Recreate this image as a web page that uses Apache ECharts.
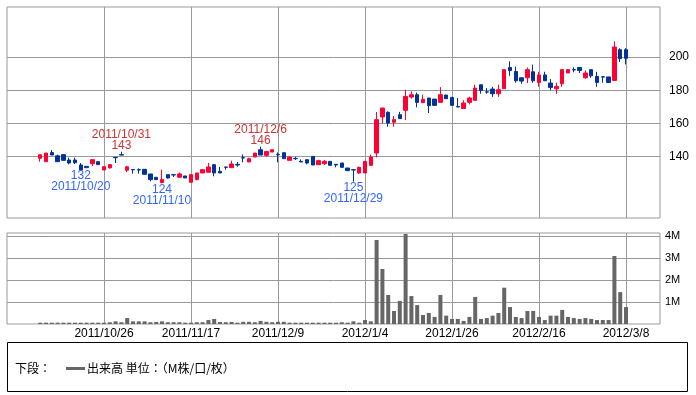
<!DOCTYPE html>
<html><head><meta charset="utf-8">
<script src="https://cdn.jsdelivr.net/npm/echarts@6/dist/echarts.min.js"></script>
<style>html,body{margin:0;padding:0;background:#fff}#c{width:696px;height:395px}</style>
</head><body><div id="c"></div>
<script>
const dates = [
 "2011/10/11","2011/10/12","2011/10/13","2011/10/14","2011/10/17","2011/10/18","2011/10/19","2011/10/20","2011/10/21","2011/10/24",
 "2011/10/25","2011/10/26","2011/10/27","2011/10/28","2011/10/31","2011/11/1","2011/11/2","2011/11/4","2011/11/7","2011/11/8",
 "2011/11/9","2011/11/10","2011/11/11","2011/11/14","2011/11/15","2011/11/16","2011/11/17","2011/11/18","2011/11/21","2011/11/22",
 "2011/11/24","2011/11/25","2011/11/28","2011/11/29","2011/11/30","2011/12/1","2011/12/2","2011/12/5","2011/12/6","2011/12/7",
 "2011/12/8","2011/12/9","2011/12/12","2011/12/13","2011/12/14","2011/12/15","2011/12/16","2011/12/19","2011/12/20","2011/12/21",
 "2011/12/22","2011/12/26","2011/12/27","2011/12/28","2011/12/29","2011/12/30","2012/1/4","2012/1/5","2012/1/6","2012/1/10",
 "2012/1/11","2012/1/12","2012/1/13","2012/1/16","2012/1/17","2012/1/18","2012/1/19","2012/1/20","2012/1/23","2012/1/24",
 "2012/1/25","2012/1/26","2012/1/27","2012/1/30","2012/1/31","2012/2/1","2012/2/2","2012/2/3","2012/2/6","2012/2/7",
 "2012/2/8","2012/2/9","2012/2/10","2012/2/13","2012/2/14","2012/2/15","2012/2/16","2012/2/17","2012/2/20","2012/2/21",
 "2012/2/22","2012/2/23","2012/2/24","2012/2/27","2012/2/28","2012/2/29","2012/3/1","2012/3/2","2012/3/5","2012/3/6",
 "2012/3/7","2012/3/8"
];
const openP = [
 139,137,142.5,140.5,141.2,138,138,135,134.2,135.8,
 137,132,133.3,139.6,141.2,131.9,132.3,132.2,132.4,129.6,
 127.6,124.4,129.2,129.2,127.6,128.4,124.6,126.2,130.2,130.6,
 135.2,131.2,133.8,133.4,135.4,139.4,136.8,139.8,144.2,140.8,
 142.8,141.4,142.4,137.8,139,137.2,138.2,140.2,135.2,135.8,
 137.2,135.4,136.2,133.2,132.2,130.2,130.2,134.8,142.2,163.9,
 166.7,160.7,165.3,167.9,175.9,177.3,172.5,175.3,174.7,172.7,
 177.1,175.7,170.2,169,172.7,173.9,183.3,179,180.7,177.9,
 180.9,193.7,191.3,187.5,187.5,191.1,184.7,189.2,184.3,180.9,
 183.9,190.4,192.4,193.7,187.5,192.4,188.3,188.1,188,185.9,
 204.4,204.4
];
const closeP = [
 141.2,142.2,141,137,137.8,136.2,136.4,132,133.4,138.2,
 135.2,134,135.2,139.4,141,133.9,132.1,132,129.4,126.2,
 126.2,126.2,127.2,129,129.6,127.2,129.2,130.2,132.2,133.8,
 130.2,130.2,133.6,135.6,135,139.2,138.8,142.2,141,143.2,
 144.2,141.2,138.8,139.8,138.8,136.8,136.2,135,137.6,137.2,
 134.8,135,133.6,131.6,132,133.6,137.2,139.8,162.3,169.3,
 160.3,162.3,162.9,176.3,177.3,172.7,174.5,170.7,170.9,177.3,
 174.9,170.9,169.9,172.3,175.3,181.3,179.9,178.9,177.9,180.3,
 192.4,191.9,185.7,185.5,192.4,185.7,189.2,185.7,181.7,182.3,
 192.4,192.4,192.2,191.9,190.4,188.7,184.7,187.9,184.7,206,
 199,199.2
];
const lowP = [
 137,137,141,137,137.8,135.4,135.6,132,133.4,134.4,
 135.2,132,132.8,136.2,141,130.7,129.8,129.8,129.4,125.2,
 126.2,124,126.8,127.8,127.6,127.2,124.6,125.8,130.2,130.6,
 128.2,130.2,132.2,133.2,134,136.6,136.8,139.8,141,140,
 142.8,136.6,138.8,137.8,138,136.8,135.4,135,135.2,135,
 134.8,133.6,133.6,131.6,125,129.6,130.2,134.8,139.6,160,
 158,158,162.9,162,175,169.7,172.5,166.3,170.9,172.7,
 174.9,170.9,169.9,169,171.5,173.9,177.9,177.9,176,176,
 180.9,188.7,184.5,183.9,184.3,184.5,182.1,185.7,180,177.9,
 182.1,190.4,190.8,190.4,187,187.5,182.1,184.5,184.5,185.9,
 197,195.5
];
const highP = [
 141.2,142.2,144,141.2,141.5,139.4,139.4,136.2,134.2,138.2,
 137,134,135.5,140,143,134.5,132.3,133,132.6,129.6,
 127.6,132.2,129.2,129.2,130.5,128.4,129.2,130.2,132.6,136.2,
 135.2,133.8,133.8,137.6,136.8,141.4,139.4,142.2,146,143.2,
 144.2,142.6,142.4,139.8,139.8,138.4,138.2,140.2,138.2,138,
 137.2,135.6,136.2,133.2,132.2,134,137.2,141.2,166.9,169.3,
 167.3,164.5,167,180.3,179.3,178.6,177.3,175.3,174.7,181.9,
 177.3,175.7,175.3,174,176.1,183.3,183.3,181.3,182,183.3,
 192.4,197.4,194.2,187.5,193.7,195.4,191.1,191.1,186.7,184.5,
 192.4,192.4,193.8,193.7,191.9,192.4,191.1,188.1,188,209.4,
 205.3,205.3
];
const volumeM = [
 0.06,0.06,0.06,0.06,0.06,0.06,0.06,0.06,0.06,0.06,
 0.06,0.06,0.08,0.12,0.08,0.27,0.12,0.12,0.12,0.08,
 0.09,0.12,0.08,0.08,0.08,0.06,0.06,0.08,0.08,0.18,
 0.23,0.09,0.08,0.09,0.06,0.1,0.1,0.08,0.14,0.1,
 0.08,0.1,0.1,0.06,0.06,0.06,0.06,0.06,0.06,0.06,
 0.06,0.06,0.08,0.06,0.12,0.06,0.18,0.12,3.82,2.5,
 1.32,0.59,1.05,4.09,1.27,0.86,0.41,0.5,0.32,1.32,
 0.38,0.23,0.23,0.14,0.32,1.23,0.23,0.27,0.38,0.5,
 1.65,0.77,0.32,0.27,0.59,0.59,0.32,0.18,0.38,0.38,
 0.64,0.32,0.27,0.23,0.27,0.23,0.18,0.18,0.18,3.09,
 1.45,0.77
];
const priceTicks = [140, 160, 180, 200];
const volumeTicks = [1, 2, 3, 4];
const dateTickIdx = [11, 26, 41, 56, 71, 86, 101];
const markIdx = [14, 7, 21, 38, 54];
const markVal = [143, 132, 124, 146, 125];
const markSide = ['high', 'low', 'low', 'high', 'low'];

const UP = '#ff0033', DOWN = '#003399', GRID = '#999999';
const FONT = '"Liberation Sans", Arial, sans-serif';
const JFONT = '"Noto Sans CJK JP", sans-serif';

const candleData = dates.map((d, i) => [i, openP[i], closeP[i], lowP[i], highP[i]]);
const volData = dates.map((d, i) => [i, volumeM[i]]);

const markData = markIdx.map((idx, k) => {
  const hi = markSide[k] === 'high';
  const col = hi ? '#cc3333' : '#3366ff';
  return {
    coord: [idx, markVal[k]],
    symbol: 'circle', symbolSize: 0,
    label: {
      show: true, position: hi ? 'top' : 'bottom', distance: 0.5,
      formatter: hi ? '{a|' + dates[idx] + '}\n{a|' + markVal[k] + '}' : '{a|' + markVal[k] + '}\n{a|' + dates[idx] + '}',
      rich: { a: { color: col, fontSize: 12, fontFamily: FONT, lineHeight: 11, align: 'center' } },
      color: col
    }
  };
});

const xMin = -5.724, xMax = 106.86;
const chart = echarts.init(document.getElementById('c'), null, { renderer: 'canvas' });
chart.setOption({
  animation: false,
  backgroundColor: '#ffffff',
  grid: [
    { left: 7, top: 7, width: 653, height: 211, show: true, borderColor: GRID, borderWidth: 1, backgroundColor: 'transparent', containLabel: false, outerBoundsMode: 'none' },
    { left: 7, top: 233, width: 653, height: 91, show: true, borderColor: GRID, borderWidth: 1, backgroundColor: 'transparent', containLabel: false, outerBoundsMode: 'none' }
  ],
  xAxis: [
    { type: 'value', gridIndex: 0, min: xMin, max: xMax,
      axisLine: { show: false }, axisTick: { show: false, customValues: dateTickIdx },
      axisLabel: { show: false, customValues: dateTickIdx },
      splitLine: { show: true, lineStyle: { color: GRID, width: 1 } } },
    { type: 'value', gridIndex: 1, min: xMin, max: xMax,
      axisLine: { show: false }, axisTick: { show: false, customValues: dateTickIdx },
      axisLabel: { show: true, customValues: dateTickIdx, margin: 4, color: '#000', fontSize: 12, fontFamily: FONT,
        formatter: v => dates[Math.round(v)] || '' },
      splitLine: { show: true, lineStyle: { color: GRID, width: 1 } } }
  ],
  yAxis: [
    { type: 'value', gridIndex: 0, position: 'right', min: 103.1, max: 230.1, scale: true,
      axisLine: { show: false },
      axisTick: { show: true, length: 3, customValues: priceTicks, lineStyle: { color: GRID } },
      axisLabel: { show: true, customValues: priceTicks, margin: 9, color: '#000', fontSize: 12, fontFamily: FONT },
      splitLine: { show: true, lineStyle: { color: GRID, width: 1 } } },
    { type: 'value', gridIndex: 1, position: 'right', min: 0, max: 4.136,
      axisLine: { show: false },
      axisTick: { show: true, length: 3, customValues: volumeTicks, lineStyle: { color: GRID } },
      axisLabel: { show: true, customValues: volumeTicks, margin: 5, color: '#000', fontSize: 11, fontFamily: FONT,
        formatter: v => v + 'M' },
      splitLine: { show: true, lineStyle: { color: GRID, width: 1 } } }
  ],
  series: [
    { type: 'candlestick', name: '株価', xAxisIndex: 0, yAxisIndex: 0, data: candleData, barWidth: 4,
      itemStyle: { color: UP, color0: DOWN, borderColor: UP, borderColor0: DOWN, borderWidth: 1 },
      markPoint: { symbol: 'circle', symbolSize: 0, data: markData, animation: false, silent: true } },
    { type: 'bar', name: '出来高', xAxisIndex: 1, yAxisIndex: 1, data: volData, barWidth: 4,
      itemStyle: { color: '#666666' } }
  ],
  graphic: [
    { type: 'rect', shape: { x: 7.5, y: 342.5, width: 680, height: 49 }, style: { fill: 'none', stroke: '#000', lineWidth: 1 } },
    { type: 'text', x: 15, y: 368, style: { text: '下段：', font: '12px ' + JFONT, fill: '#000', textVerticalAlign: 'middle' } },
    { type: 'rect', shape: { x: 66, y: 367, width: 19, height: 3 }, style: { fill: '#666666' } },
    { type: 'text', x: 87, y: 368, style: { text: '出来高 単位：（M株/口/枚）', font: '12px ' + JFONT, fill: '#000', textVerticalAlign: 'middle' } }
  ]
});
</script></body></html>
